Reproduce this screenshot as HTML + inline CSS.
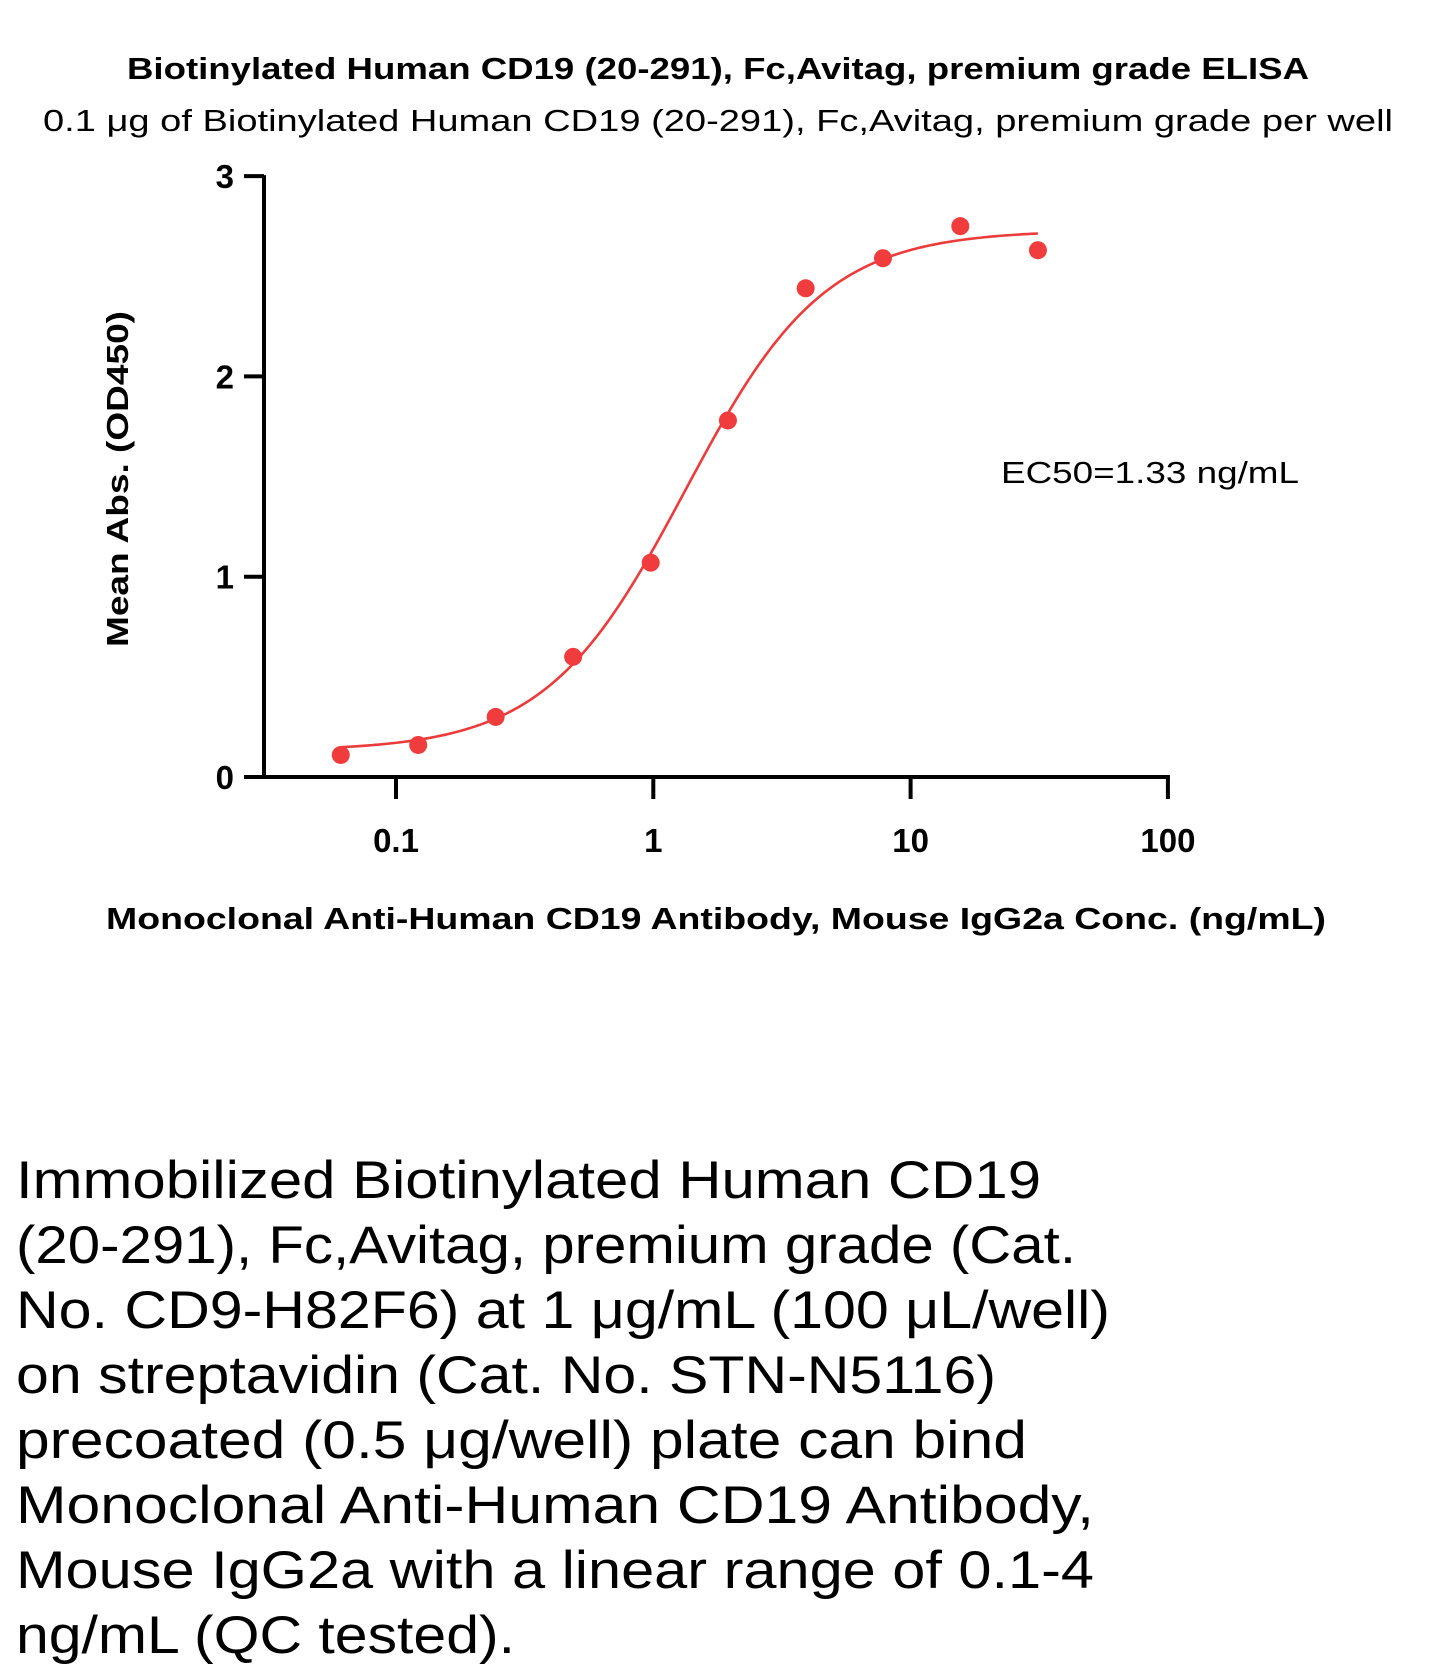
<!DOCTYPE html>
<html><head><meta charset="utf-8"><style>
html,body{margin:0;padding:0;background:#fff;}
svg{display:block;}
text{font-family:"Liberation Sans",sans-serif;fill:#000;}
</style></head><body>
<svg id="chart" width="1431" height="1674" viewBox="0 0 1431 1674" xmlns="http://www.w3.org/2000/svg">
<text x="718" y="79" text-anchor="middle" font-size="31" font-weight="bold" textLength="1182" lengthAdjust="spacingAndGlyphs">Biotinylated Human CD19 (20-291), Fc,Avitag, premium grade ELISA</text>
<text x="718" y="131" text-anchor="middle" font-size="31" textLength="1350" lengthAdjust="spacingAndGlyphs">0.1 μg of Biotinylated Human CD19 (20-291), Fc,Avitag, premium grade per well</text>
<text transform="translate(128,479) rotate(-90)" text-anchor="middle" font-size="31" font-weight="bold" textLength="336" lengthAdjust="spacingAndGlyphs">Mean Abs. (OD450)</text>
<text x="716" y="929" text-anchor="middle" font-size="31" font-weight="bold" textLength="1220" lengthAdjust="spacingAndGlyphs">Monoclonal Anti-Human CD19 Antibody, Mouse IgG2a Conc. (ng/mL)</text>
<text x="1001" y="483" font-size="31" textLength="298" lengthAdjust="spacingAndGlyphs">EC50=1.33 ng/mL</text>
<g id="axes"></g>
<g id="marks"></g>
<g font-size="53">
<text x="16" y="1198" textLength="1025" lengthAdjust="spacingAndGlyphs">Immobilized Biotinylated Human CD19</text>
<text x="16" y="1263" textLength="1060" lengthAdjust="spacingAndGlyphs">(20-291), Fc,Avitag, premium grade (Cat.</text>
<text x="16" y="1328" textLength="1094" lengthAdjust="spacingAndGlyphs">No. CD9-H82F6) at 1 μg/mL (100 μL/well)</text>
<text x="16" y="1393" textLength="980" lengthAdjust="spacingAndGlyphs">on streptavidin (Cat. No. STN-N5116)</text>
<text x="16" y="1458" textLength="1011" lengthAdjust="spacingAndGlyphs">precoated (0.5 μg/well) plate can bind</text>
<text x="16" y="1523" textLength="1078" lengthAdjust="spacingAndGlyphs">Monoclonal Anti-Human CD19 Antibody,</text>
<text x="16" y="1588" textLength="1078" lengthAdjust="spacingAndGlyphs">Mouse IgG2a with a linear range of 0.1-4</text>
<text x="16" y="1653" textLength="499" lengthAdjust="spacingAndGlyphs">ng/mL (QC tested).</text>
</g>
</svg>
<script>
const concentrations = [0.061, 0.122, 0.244, 0.488, 0.977, 1.95, 3.91, 7.81, 15.6, 31.25];
const absorbances = [0.11, 0.16, 0.30, 0.60, 1.07, 1.78, 2.44, 2.59, 2.75, 2.63];
const fitParams = [0.13, 2.73, 1.33, 1.6]; // bottom, top, EC50, hill
const xTicks = [0.1, 1, 10, 100];
const xTickLabels = ["0.1", "1", "10", "100"];
const yTicks = [0, 1, 2, 3];
const yTickLabels = ["0", "1", "2", "3"];

const NS = "http://www.w3.org/2000/svg";
const X0 = 396, XDEC = 257.3, Y0 = 777, YUNIT = 200.3;
function xs(v){ return X0 + Math.log10(v/0.1)*XDEC; }
function ys(v){ return Y0 - v*YUNIT; }
function mk(tag, attrs, parent){ const e=document.createElementNS(NS,tag); for(const k in attrs) e.setAttribute(k,attrs[k]); parent.appendChild(e); return e; }

const axes = document.getElementById('axes');
const yAxis = mk('line',{x1:264,y1:ys(3)-1,x2:264,y2:Y0+2,stroke:'#000','stroke-width':4},axes);


const xAxis = mk('line',{x1:244,y1:Y0,x2:xs(100)+2,y2:Y0,stroke:'#000','stroke-width':4},axes);


yTicks.forEach((t,i)=>{
  const tk = mk('line',{x1:244,y1:ys(t),x2:264,y2:ys(t),stroke:'#000','stroke-width':4},axes);
  
  
  const lb = mk('text',{x:234,y:ys(t)+12,'text-anchor':'end','font-size':33,'font-weight':'bold'},axes);
  lb.textContent = yTickLabels[i];
  
  
});
xTicks.forEach((t,i)=>{
  const tk = mk('line',{x1:xs(t),y1:Y0,x2:xs(t),y2:Y0+22,stroke:'#000','stroke-width':4},axes);
  
  
  const lb = mk('text',{x:xs(t),y:852,'text-anchor':'middle','font-size':33,'font-weight':'bold'},axes);
  lb.textContent = xTickLabels[i];
  
  
});

const marks = document.getElementById('marks');
function fit(x){ const [b,t,e,h]=fitParams; return b + (t-b)/(1+Math.pow(e/x,h)); }
let d = '';
const lo = Math.log10(concentrations[0]), hi = Math.log10(concentrations[concentrations.length-1]);
for(let i=0;i<=200;i++){
  const x = Math.pow(10, lo + (hi-lo)*i/200);
  d += (i?'L':'M') + xs(x).toFixed(2) + ',' + ys(fit(x)).toFixed(2);
}
const curve = mk('path',{d:d,fill:'none',stroke:'#ec3b3b','stroke-width':2.6},marks);


concentrations.forEach((c,i)=>{
  const p = mk('circle',{cx:xs(c),cy:ys(absorbances[i]),r:9,fill:'#f03c3c'},marks);
  
  
});
</script>
</body></html>
